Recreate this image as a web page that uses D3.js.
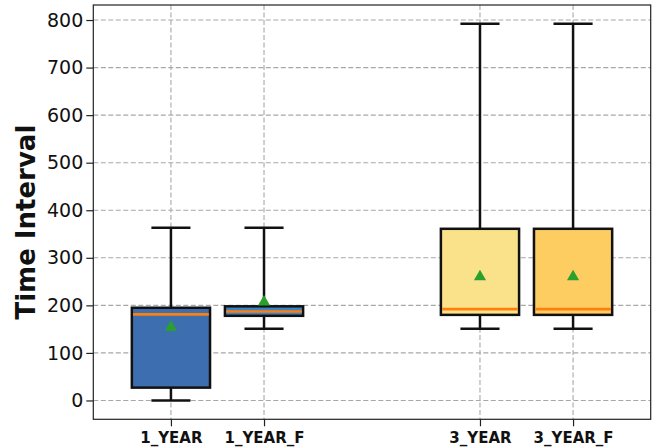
<!DOCTYPE html>
<html><head><meta charset="utf-8">
<script src="https://cdn.jsdelivr.net/npm/d3@7"></script>
<style>body{margin:0;background:#fff;} svg{display:block;}</style>
</head><body>
<svg id="chart" width="665" height="448"></svg>
<script>
const categories = ["1_YEAR", "1_YEAR_F", "3_YEAR", "3_YEAR_F"];
const positions = [1, 2, 4.32, 5.32];
const whiskerLow = [0, 151, 151, 151];
const q1 = [27, 178, 180, 180];
const median = [181, 187, 192, 192];
const q3 = [195, 198, 361, 361];
const whiskerHigh = [363, 363, 792, 792];
const means = [154, 207, 260, 260];
const fills = ["#3d6fb0", "#3a84c6", "#fae28b", "#fdcd62"];
const yTicks = [0, 100, 200, 300, 400, 500, 600, 700, 800];

const svg = d3.select("#chart");
const L = 93.3, R = 650.7, T = 5, B = 419.3;
const x = d3.scaleLinear().domain([0.166, 6.154]).range([L, R]);
const y = d3.scaleLinear().domain([-39.6, 831.6]).range([B, T]);
const boxW = x(1.84) - x(1);
const capW = boxW / 2;

// grid
const grid = svg.append("g");
grid.selectAll("line.gy").data(yTicks).enter().append("line")
  .attr("x1", L).attr("x2", R).attr("y1", d => y(d)).attr("y2", d => y(d))
  .attr("stroke", "#a8a8a8").attr("stroke-width", 1.1).attr("stroke-dasharray", "5,2.5");
grid.selectAll("line.gx").data(positions).enter().append("line")
  .attr("y1", T).attr("y2", B).attr("x1", d => x(d)).attr("x2", d => x(d))
  .attr("stroke", "#a8a8a8").attr("stroke-width", 1.1).attr("stroke-dasharray", "5,2.5");

// axes
const yAxis = d3.axisLeft(y).tickValues(yTicks).tickSize(7).tickPadding(3);
const gy = svg.append("g").attr("transform", `translate(${L},0)`).call(yAxis);
gy.select(".domain").remove();
gy.selectAll("text").attr("font-family", "DejaVu Sans").attr("font-size", 19).attr("fill", "#111");
gy.selectAll("line").attr("stroke", "#222").attr("stroke-width", 1.2);

const xAxis = d3.axisBottom(x).tickValues(positions).tickFormat((d, i) => categories[i]).tickSize(7).tickPadding(6);
const gx = svg.append("g").attr("transform", `translate(0,${B})`).call(xAxis);
gx.select(".domain").remove();
gx.selectAll("text").attr("font-family", "DejaVu Sans").attr("font-weight", "bold").attr("font-size", 15).attr("fill", "#111");
gx.selectAll("line").attr("stroke", "#222").attr("stroke-width", 1.2);

// boxes
const idx = d3.range(categories.length);
const g = svg.append("g");
const lw = 2.5;
idx.forEach(i => {
  const cx = x(positions[i]);
  g.append("line").attr("x1", cx).attr("x2", cx).attr("y1", y(whiskerLow[i])).attr("y2", y(q1[i]))
    .attr("stroke", "#111").attr("stroke-width", lw);
  g.append("line").attr("x1", cx).attr("x2", cx).attr("y1", y(q3[i])).attr("y2", y(whiskerHigh[i]))
    .attr("stroke", "#111").attr("stroke-width", lw);
  g.append("line").attr("x1", cx - capW / 2).attr("x2", cx + capW / 2).attr("y1", y(whiskerLow[i])).attr("y2", y(whiskerLow[i]))
    .attr("stroke", "#111").attr("stroke-width", lw);
  g.append("line").attr("x1", cx - capW / 2).attr("x2", cx + capW / 2).attr("y1", y(whiskerHigh[i])).attr("y2", y(whiskerHigh[i]))
    .attr("stroke", "#111").attr("stroke-width", lw);
  g.append("rect").attr("x", cx - boxW / 2).attr("width", boxW)
    .attr("y", y(q3[i])).attr("height", y(q1[i]) - y(q3[i]))
    .attr("fill", fills[i]).attr("stroke", "#111").attr("stroke-width", lw);
  g.append("line").attr("x1", cx - boxW / 2 + 1.2).attr("x2", cx + boxW / 2 - 1.2).attr("y1", y(median[i])).attr("y2", y(median[i]))
    .attr("stroke", "#ff7f0e").attr("stroke-width", 2.6);
  g.append("path").attr("d", d3.symbol().type(d3.symbolTriangle).size(64)())
    .attr("transform", `translate(${cx},${y(means[i])})`).attr("fill", "#2ca02c");
});

// frame
svg.append("rect").attr("x", L).attr("y", T).attr("width", R - L).attr("height", B - T)
  .attr("fill", "none").attr("stroke", "#222").attr("stroke-width", 1.2);

svg.append("text").attr("transform", `translate(35,${(T + B) / 2 + 10}) rotate(-90)`)
  .attr("text-anchor", "middle").attr("font-family", "DejaVu Sans").attr("font-weight", "bold")
  .attr("font-size", 26).attr("fill", "#111").text("Time Interval");
</script>
</body></html>
